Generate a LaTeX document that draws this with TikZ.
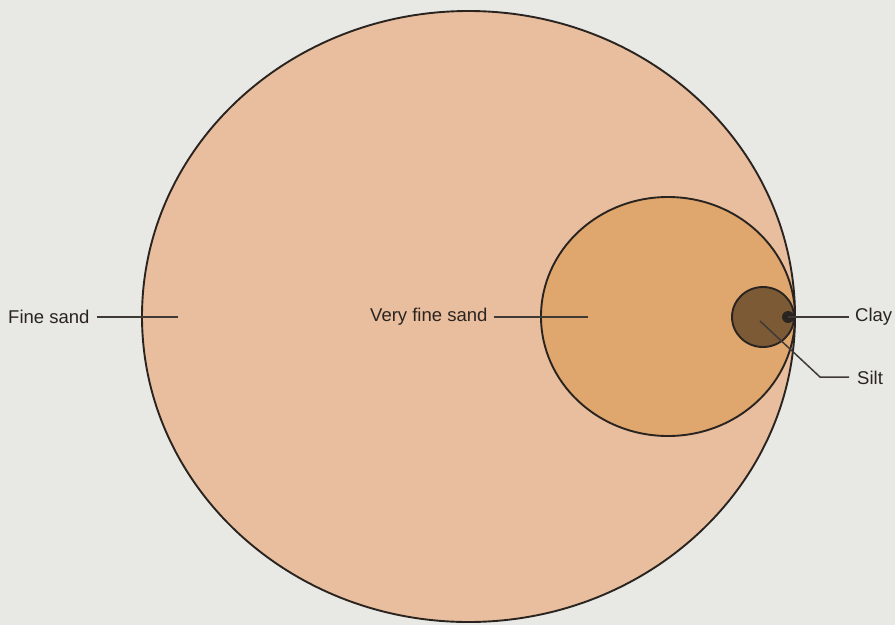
\documentclass[tikz,border=0pt]{standalone}
\usepackage{fontspec}
\setmainfont{Liberation Sans}
\usetikzlibrary{shapes.geometric}
\definecolor{bg}{HTML}{E8E8E5}
\definecolor{finesand}{HTML}{E9BE9E}
\definecolor{vfsand}{HTML}{DFA66E}
\definecolor{siltc}{HTML}{7D5A36}
\definecolor{inkc}{HTML}{2A2420}
\begin{document}
\begin{tikzpicture}[x=1pt,y=-1pt,
  ring/.style={draw=inkc,line width=1.9pt,ellipse,inner sep=0pt},
  leader/.style={draw=inkc!90,line width=1.5pt},
  lab/.style={font=\fontsize{18.5}{20}\selectfont,text=inkc,inner sep=0pt}]
\fill[bg] (0,0) rectangle (895,625);
\useasboundingbox (0,0) rectangle (895,625);
% circles
\node[ring,fill=finesand,minimum width=653pt,minimum height=611pt] (fine) at (468.5,316.5) {};
\node[ring,fill=vfsand,minimum width=254pt,minimum height=239pt] (vfine) at (668,316.5) {};
\node[ring,fill=siltc,minimum width=62pt,minimum height=60pt] (silt) at (763,317) {};
\node[fill=inkc,circle,minimum size=12pt,inner sep=0pt] (clay) at (788,317) {};
% labels
\node[lab,anchor=west] (lfine) at (8,317) {Fine sand};
\node[lab,anchor=west] (lvfine) at (370,317) {Very fine sand};
\node[lab,anchor=west] (lclay) at (855,317) {Clay};
\node[lab,anchor=west] (lsilt) at (857,378) {Silt};
% leader ends
\coordinate (pfine) at (178,317);
\coordinate (pvfine) at (588,317);
\coordinate (psilt) at (760,321);
\coordinate (bend) at (820,377);
% leaders
\draw[leader] ([xshift=7pt]lfine.east) -- (pfine);
\draw[leader] ([xshift=6pt]lvfine.east) -- (pvfine);
\draw[leader] (clay.center) -- ([xshift=-6pt]lclay.west);
\draw[leader] (psilt) -- (bend) -- ([xshift=-8pt]bend -| lsilt.west);
\end{tikzpicture}
\end{document}
